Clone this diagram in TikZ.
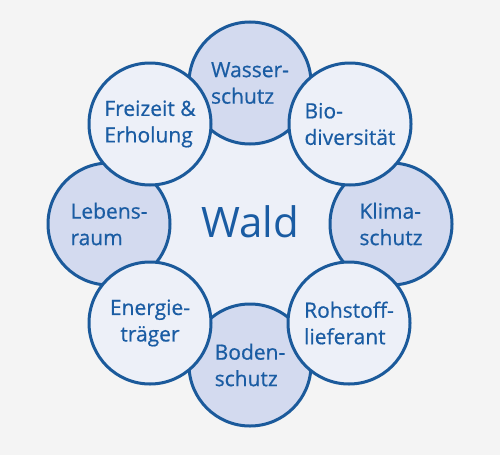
\documentclass[tikz,border=0pt]{standalone}
\usepackage{fontspec}
\setmainfont{Open Sans}
\newfontfamily\petalfont[FakeBold=0.6]{Open Sans}
\definecolor{bgc}{HTML}{F4F4F4}
\definecolor{ringc}{HTML}{1B5A9B}
\definecolor{txtc}{HTML}{1A5CA3}
\definecolor{darkfill}{HTML}{D3DAEF}
\definecolor{lightfill}{HTML}{EDF0F8}
\begin{document}
\begin{tikzpicture}[x=1pt,y=-1pt,
  petal/.style={circle, draw=ringc, line width=3pt, minimum size=122pt, inner sep=0pt,
    text=txtc, font=\petalfont\fontsize{21}{26.5}\selectfont, align=left},
  darkpetal/.style={petal, fill=darkfill},
  lightpetal/.style={petal, fill=lightfill}]
\fill[bgc] (0,0) rectangle (500,455);
\useasboundingbox (0,0) rectangle (500,455);
\fill[lightfill] (250,224) circle (140);
% cardinal petals (underneath)
\node[darkpetal] (wasser) at (250,83) {Wasser-\\schutz};
\node[darkpetal] (klima) at (391,224) {Klima-\\schutz};
\node[darkpetal] (boden) at (250,365) {Boden-\\schutz};
\node[darkpetal] (lebens) at (109,224) {Lebens-\\raum};
% diagonal petals (on top)
\node[lightpetal] (bio) at (350,124) {Bio-\\diversität};
\node[lightpetal] (rohstoff) at (349,323) {Rohstoff-\\lieferant};
\node[lightpetal, align=center] (energie) at (150,323) {Energie-\\träger};
\node[lightpetal] (freizeit) at (150,124) {Freizeit \&\\Erholung};
% centre
\node[text=txtc, font=\fontsize{42}{48}\selectfont] (wald) at (250,222) {Wald};
\end{tikzpicture}
\end{document}
